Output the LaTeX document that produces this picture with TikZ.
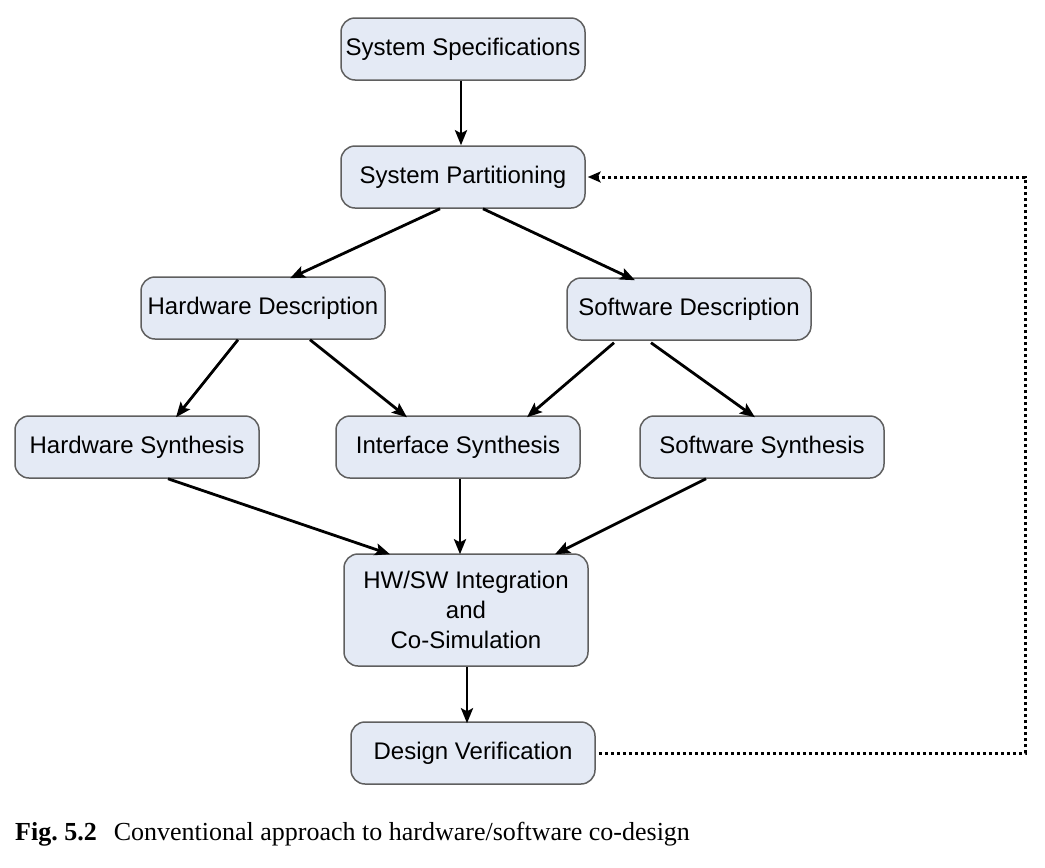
\documentclass[tikz,border=0pt]{standalone}
\usepackage{fontspec}
\setmainfont{Liberation Serif}
\newfontfamily\boxfont{Liberation Sans}
\usetikzlibrary{arrows.meta}
\usetikzlibrary{calc}
\usetikzlibrary{positioning}

\definecolor{boxfill}{RGB}{228,234,245}
\definecolor{boxline}{RGB}{95,95,95}

\tikzset{
    stepbox/.style={draw=boxline, line width=1.5pt, fill=boxfill, rounded corners=14pt,
        minimum width=244pt, minimum height=62pt, align=center,
        font=\boxfont\fontsize{24}{30}\selectfont},
    flow/.style={line width=2.8pt, -{Stealth[length=15pt,width=12pt,inset=3pt]}},
    feedback/.style={line width=3pt, dash pattern=on 3pt off 3pt,
        -{Stealth[length=13pt,width=11pt,inset=3pt]}}
}

\begin{document}
\begin{tikzpicture}[x=1pt, y=-1pt]
    \useasboundingbox (0,0) rectangle (1045,868);
    % boxes
    \node[stepbox] (spec) at (463,49) {System Specifications};
    \node[stepbox] (part) at (463,177) {System Partitioning};
    \node[stepbox] (hwdesc) at (263,308) {Hardware Description};
    \node[stepbox] (swdesc) at (689,309) {Software Description};
    \node[stepbox] (hwsyn) at (137,447) {Hardware Synthesis};
    \node[stepbox] (ifsyn) at (458,447) {Interface Synthesis};
    \node[stepbox] (swsyn) at (762,447) {Software Synthesis};
    \node[stepbox, minimum height=112pt] (integ) at (466,610) {HW/SW Integration\\and\\Co-Simulation};
    \node[stepbox] (verif) at (473,753) {Design Verification};
    \coordinate (corner1) at (1025,753);
    \coordinate (corner2) at (1025,177);

    % arrows
    \draw[flow] ([xshift=-2pt]spec.south) -- ([xshift=-2pt]part.north);
    \draw[flow] ([xshift=-23pt]part.south) -- ([xshift=27pt,yshift=-2pt]hwdesc.north);
    \draw[flow] ([xshift=20pt]part.south) -- ([xshift=-54pt,yshift=-3pt]swdesc.north);
    \draw[flow] ([xshift=-25pt]hwdesc.south) -- ([xshift=39pt,yshift=-2pt]hwsyn.north);
    \draw[flow] ([xshift=47pt]hwdesc.south) -- ([xshift=-51pt,yshift=-2pt]ifsyn.north);
    \draw[flow] ([xshift=-75pt,yshift=-2pt]swdesc.south) -- ([xshift=69pt,yshift=-2pt]ifsyn.north);
    \draw[flow] ([xshift=-38pt,yshift=-2pt]swdesc.south) -- ([xshift=-7pt,yshift=-2pt]swsyn.north);
    \draw[flow] ([xshift=31pt]hwsyn.south) -- ([xshift=-76pt,yshift=-1pt]integ.north);
    \draw[flow] ([xshift=2pt]ifsyn.south) -- ([xshift=-6pt,yshift=-1pt]integ.north);
    \draw[flow] ([xshift=-56pt]swsyn.south) -- ([xshift=89pt,yshift=-1pt]integ.north);
    \draw[flow] ([xshift=1pt]integ.south) -- ([xshift=-6pt,yshift=-2pt]verif.north);
    \draw[feedback] ([xshift=3pt]verif.east) -- (corner1) -- (corner2) -- ([xshift=2pt]part.east);

    % caption
    \node[anchor=base west, inner sep=0pt, font=\fontsize{26}{31}\selectfont] (caption) at (15,840)
        {\textbf{Fig.\ 5.2}\hspace{17pt}Conventional approach to hardware/software co-design};
\end{tikzpicture}
\end{document}
